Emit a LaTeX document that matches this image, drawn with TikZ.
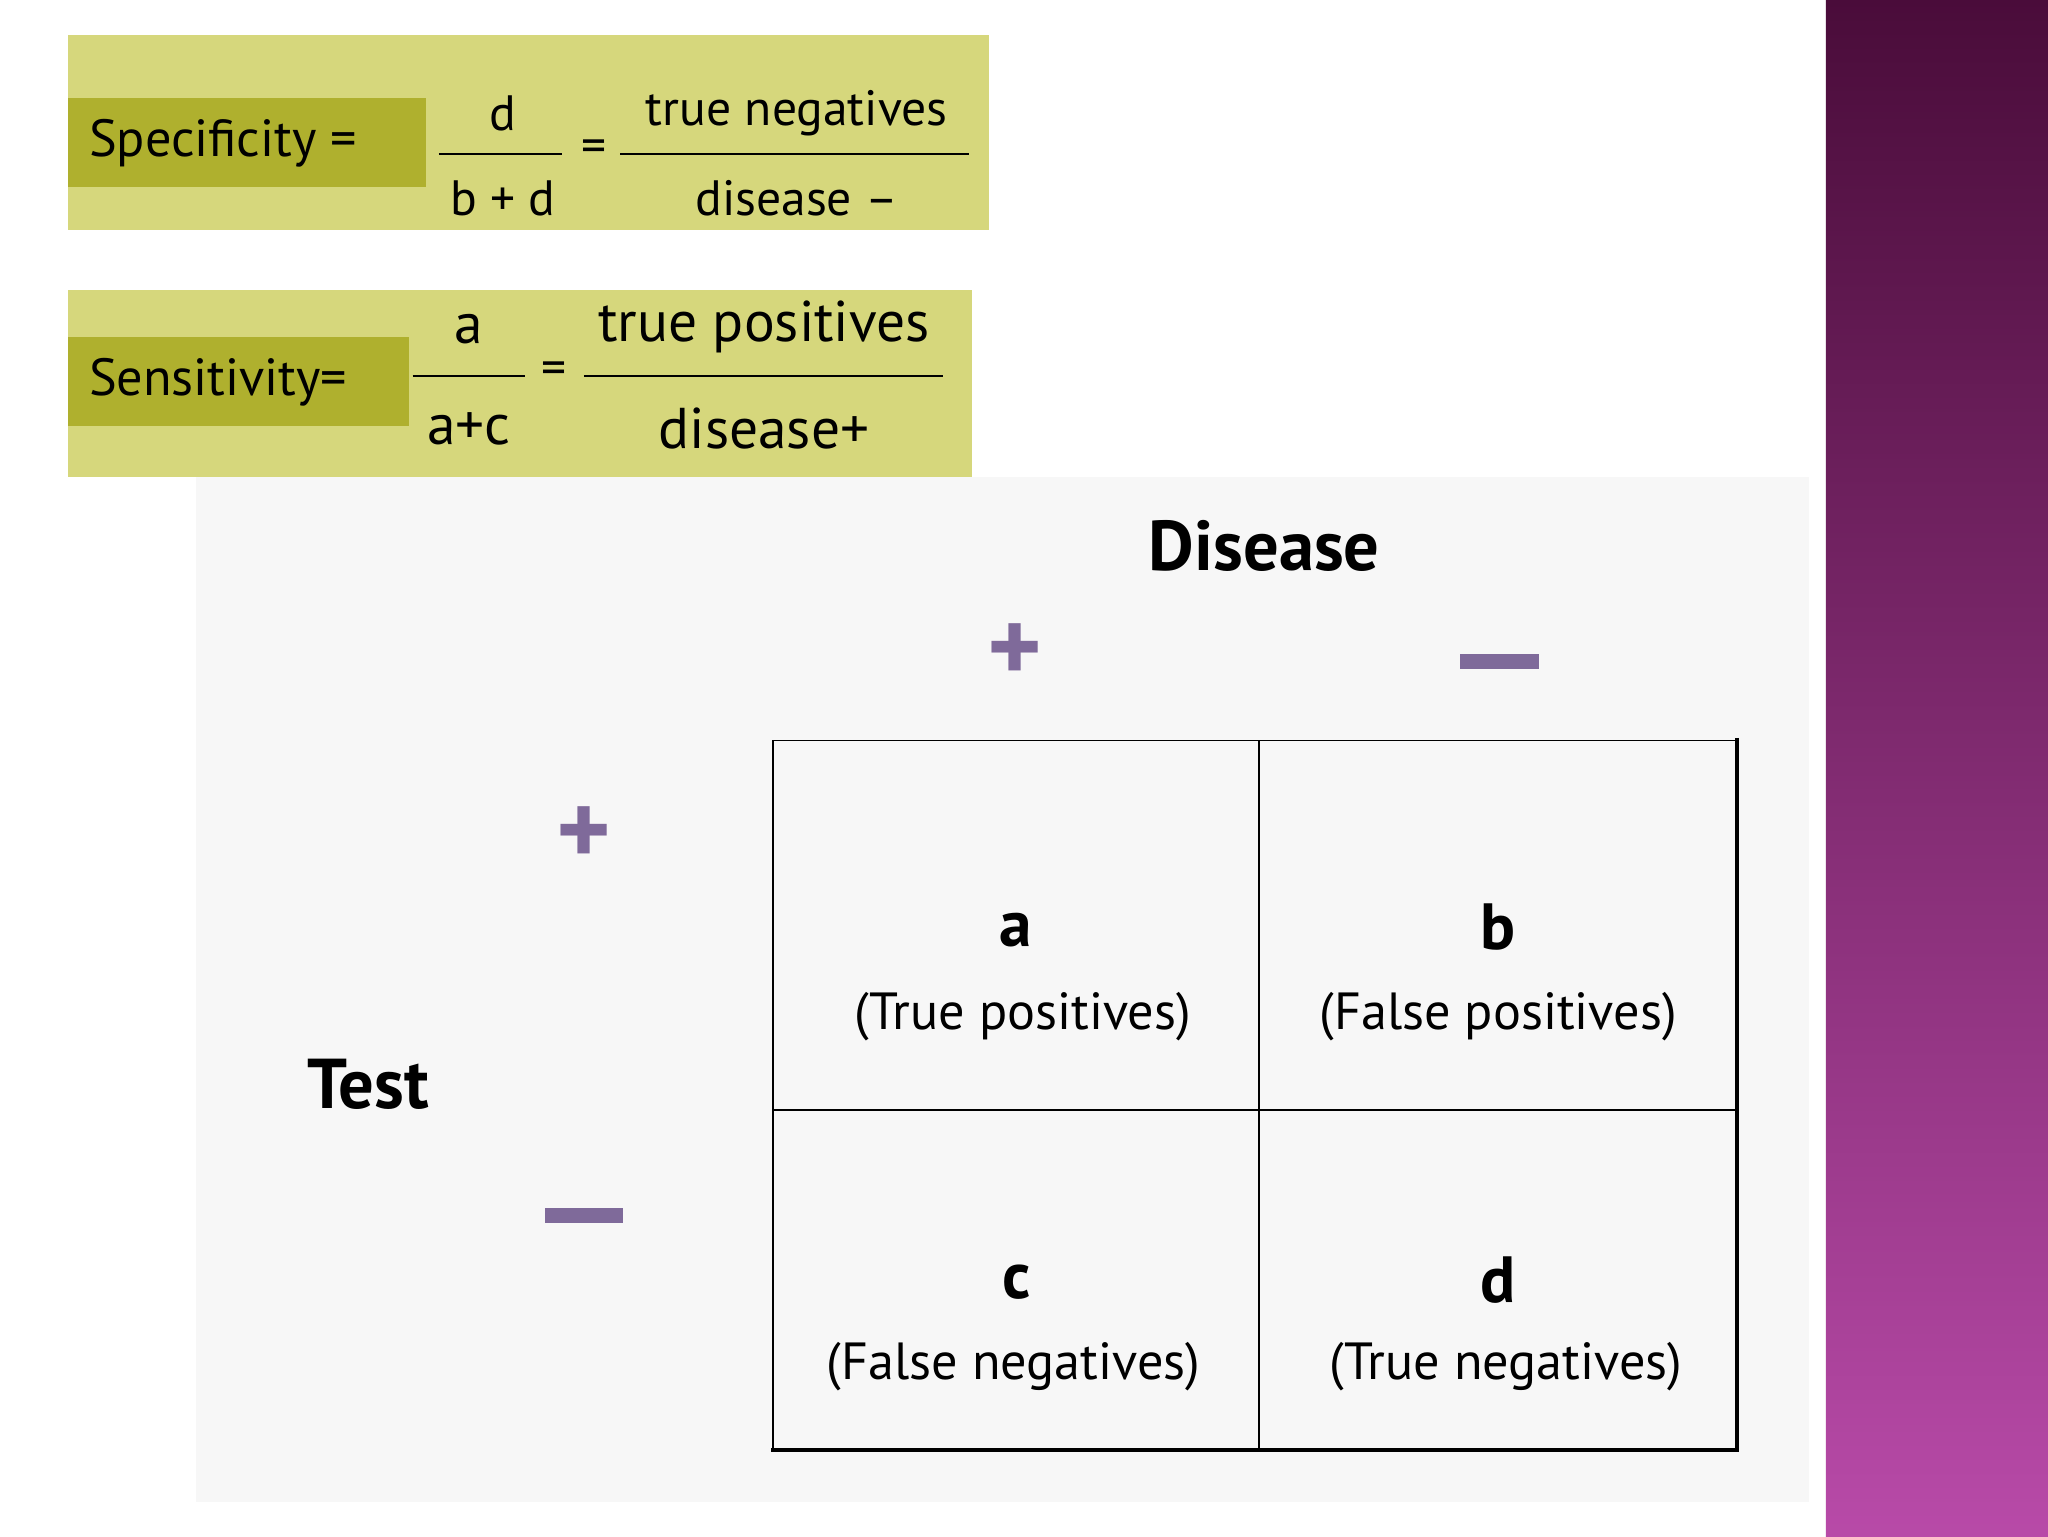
\documentclass[tikz,border=0pt]{standalone}
\usepackage{fontspec}
\setmainfont{PT Sans}
\begin{document}
\begin{tikzpicture}[x={(1pt,0)},y={(0,-1pt)},
  lbl/.style={inner sep=0pt,font=\fontsize{40}{44}\selectfont},
  frac/.style={inner sep=0pt,font=\fontsize{38}{42}\selectfont},
  big/.style={inner sep=0pt,font=\bfseries\fontsize{54}{60}\selectfont},
  cellL/.style={inner sep=0pt,font=\bfseries\fontsize{50}{56}\selectfont},
  cellT/.style={inner sep=0pt,font=\fontsize{40}{44}\selectfont},
  sgn/.style={inner sep=0pt,font=\bfseries\fontsize{80}{80}\selectfont,text=signc}]
\definecolor{olivel}{HTML}{D6D77C}
\definecolor{olived}{HTML}{AFB02E}
\definecolor{signc}{HTML}{7F6A9A}
\definecolor{barT}{HTML}{4A0C3A}
\definecolor{barB}{HTML}{B84AA8}
\useasboundingbox (0,0) rectangle (1568,1176);
\fill[white] (0,0) rectangle (1568,1176);
\shade[top color=barT,bottom color=barB] (1398,0) rectangle (1568,1176);
\fill[black!3] (150,365) rectangle (1385,1150);
% specificity
\fill[olivel] (52,27) rectangle (757,176);
\fill[olived] (52,75) rectangle (326,143);
\node[lbl,anchor=west] (spl) at (68,110) {Specificity =};
\node[frac] (spn) at (385,87) {d};
\node[frac] (spd) at (385,152) {b + d};
\draw[line width=1.5pt] (336,118) -- (430,118);
\node[frac] (spe) at (455,116) {=};
\node[frac] (spn2) at (610,87) {true negatives};
\node[frac] (spd2) at (610,152) {disease –};
\draw[line width=1.5pt] (475,118) -- (742,118);
% sensitivity
\fill[olivel] (52,222) rectangle (744,365);
\fill[olived] (52,258) rectangle (313,326);
\node[lbl,anchor=west] (sel) at (68,293) {Sensitivity=};
\node[frac,font=\fontsize{44}{48}\selectfont] (sen) at (359,252) {a};
\node[frac,font=\fontsize{44}{48}\selectfont] (sed) at (359,328) {a+c};
\draw[line width=1.5pt] (316,288) -- (402,288);
\node[frac] (see) at (424,286) {=};
\node[frac,font=\fontsize{44}{48}\selectfont] (sen2) at (585,250) {true positives};
\node[frac,font=\fontsize{44}{48}\selectfont] (sed2) at (585,328) {disease+};
\draw[line width=1.5pt] (447,288) -- (722,288);
% table
\node[big] (dis) at (968,418) {Disease};
\node[big] (test) at (282,830) {Test};
\node[sgn] (dp) at (777,500) {+};
\node[sgn] (tp) at (447,640) {+};
\fill[signc] (1118,501) rectangle (1178,512);
\fill[signc] (417,925) rectangle (477,936);
\draw[line width=1.2pt] (592,567) rectangle (1330,1110);
\draw[line width=1.2pt] (964,567) -- (964,1110);
\draw[line width=1.2pt] (592,850) -- (1330,850);
\draw[line width=3.5pt] (1330,565) -- (1330,1110) -- (590,1110);
\node[cellL] (a) at (778,712) {a};
\node[cellT] (at) at (783,778) {(True positives)};
\node[cellL] (b) at (1147,710) {b};
\node[cellT] (bt) at (1147,778) {(False positives)};
\node[cellL] (c) at (778,982) {c};
\node[cellT] (ct) at (776,1046) {(False negatives)};
\node[cellL] (d) at (1147,980) {d};
\node[cellT] (dt) at (1153,1046) {(True negatives)};
\end{tikzpicture}
\end{document}
